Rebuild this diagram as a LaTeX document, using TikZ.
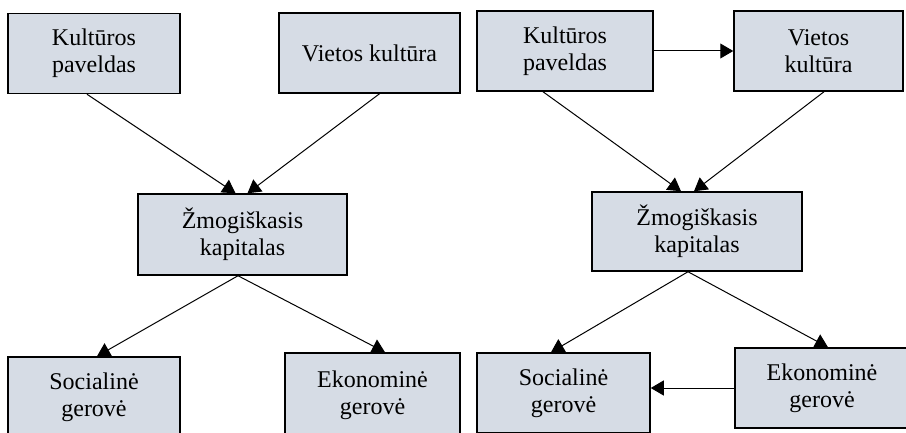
\documentclass[tikz,border=0pt]{standalone}
\usepackage{fontspec}
\setmainfont{Liberation Serif}
\usepackage{tikz}
\usetikzlibrary{arrows.meta, calc}
\definecolor{boxgrey}{RGB}{214,220,229}

\begin{document}
\begin{tikzpicture}[x=1pt, y=-1pt,
    box/.style={draw=black, line width=1.5pt, fill=boxgrey, align=center, inner sep=0pt,
        minimum height=80pt, font=\fontsize{24}{27}\selectfont},
    link/.style={line width=1pt, -{Triangle[length=13pt, width=15pt]}}]
    \clip (0,0) rectangle (906,433);

    % Left model
    \node[box, minimum width=172pt] (kpL) at (94,53.5) {Kultūros\\paveldas};
    \node[box, minimum width=181pt] (vkL) at (369.5,53) {Vietos kultūra};
    \node[box, minimum width=209pt, minimum height=81pt] (zkL) at (242.5,234.5) {Žmogiškasis\\kapitalas};
    \node[box, minimum width=172pt] (sgL) at (94,397) {Socialinė\\gerovė};
    \node[box, minimum width=175pt, minimum height=84pt] (ekL) at (372.5,395) {Ekonominė\\gerovė};

    \draw[link] ([xshift=-7pt]kpL.south) -- ([xshift=-7pt]zkL.north);
    \draw[link] ([xshift=10pt]vkL.south) -- ([xshift=5pt]zkL.north);
    \draw[link] ([xshift=-4.5pt]zkL.south) -- ([xshift=3pt]sgL.north);
    \draw[link] ([xshift=-4.5pt]zkL.south) -- ([xshift=12.5pt]ekL.north);

    % Right model
    \node[box, minimum width=176pt] (kpR) at (565,51) {Kultūros\\paveldas};
    \node[box, minimum width=169pt] (vkR) at (818.5,51) {Vietos\\kultūra};
    \node[box, minimum width=210pt, minimum height=79pt] (zkR) at (697,231.5) {Žmogiškasis\\kapitalas};
    \node[box, minimum width=173pt] (sgR) at (563.5,393) {Socialinė\\gerovė};
    \node[box, minimum width=174pt] (ekR) at (822,388) {Ekonominė\\gerovė};

    \draw[link] (kpR.east) -- (vkR.west);
    \draw[link] ([xshift=-22pt]kpR.south) -- ([xshift=-16pt]zkR.north);
    \draw[link] ([xshift=5.5pt]vkR.south) -- ([xshift=-3pt]zkR.north);
    \draw[link] ([xshift=-9pt]zkR.south) -- ([xshift=-12.5pt]sgR.north);
    \draw[link] ([xshift=-9pt]zkR.south) -- ([xshift=6pt]ekR.north);
    \draw[link] (ekR.west) -- (sgR.east |- ekR.west);
\end{tikzpicture}
\end{document}
